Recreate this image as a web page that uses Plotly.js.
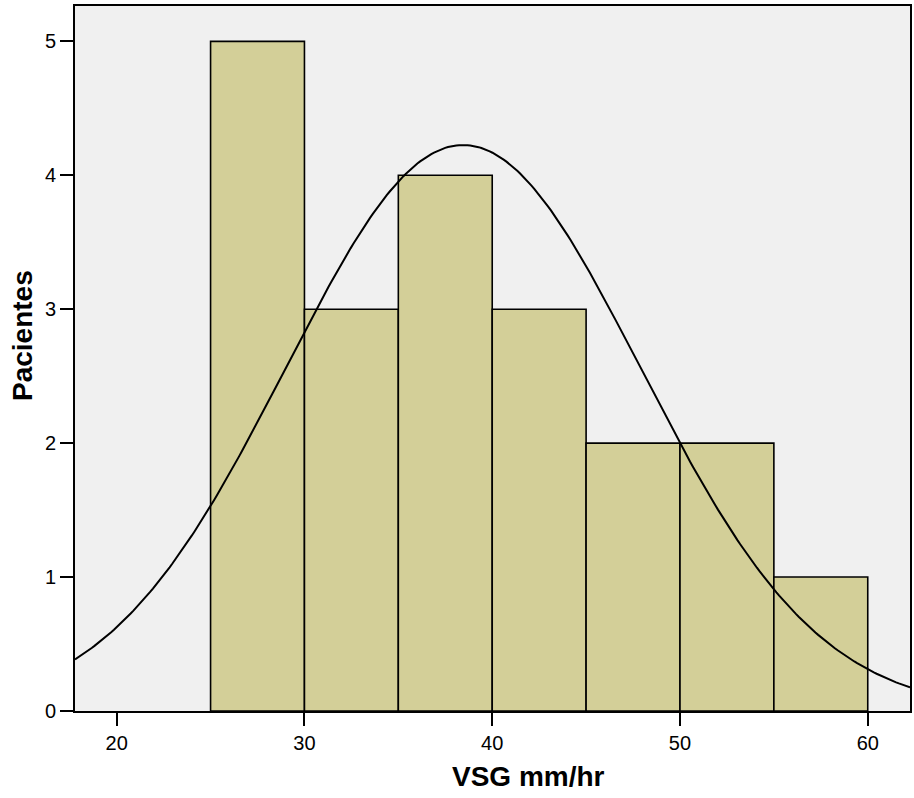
<!DOCTYPE html>
<html>
<head>
<meta charset="utf-8">
<script src="https://cdn.plot.ly/plotly-3.0.1.min.js"></script>
<style>html,body{margin:0;padding:0;background:#fff;}#chart{width:914px;height:798px;}</style>
</head>
<body>
<div id="chart"></div>
<script>
// Histogram bins (lower edge, mm/hr) and patient counts
var binStarts = [25, 30, 35, 40, 45, 50, 55];
var binWidth = 5;
var counts = [5, 3, 4, 3, 2, 2, 1];
// Fitted normal curve parameters
var curveMean = 38.45;
var curveSD = 9.44;
var xTicks = [20, 30, 40, 50, 60];
var yTicks = [0, 1, 2, 3, 4, 5];
var xTitle = 'VSG mm/hr';
var yTitle = 'Pacientes';

var nTotal = counts.reduce(function(a, b){ return a + b; }, 0);
var binCenters = binStarts.map(function(s){ return s + binWidth / 2; });

var xRange = [17.78, 62.25];
var cx = [], cy = [];
var steps = 300;
for (var i = 0; i <= steps; i++) {
  var x = xRange[0] + (xRange[1] - xRange[0]) * i / steps;
  var z = (x - curveMean) / curveSD;
  cx.push(x);
  cy.push(nTotal * binWidth * Math.exp(-0.5 * z * z) / (curveSD * Math.sqrt(2 * Math.PI)));
}

var traces = [
  {
    type: 'bar',
    x: binCenters,
    y: counts,
    width: binWidth,
    marker: {color: '#D3CF98', line: {color: '#000000', width: 1.6}},
    hoverinfo: 'x+y',
    showlegend: false
  },
  {
    type: 'scatter',
    mode: 'lines',
    x: cx,
    y: cy,
    line: {color: '#000000', width: 2},
    hoverinfo: 'skip',
    showlegend: false
  }
];

var layout = {
  width: 914,
  height: 798,
  margin: {l: 75, r: 4, t: 6, b: 87},
  paper_bgcolor: '#FFFFFF',
  plot_bgcolor: '#F0F0F0',
  bargap: 0,
  font: {family: 'Liberation Sans, Arial, sans-serif', color: '#000000', size: 20},
  xaxis: {
    range: xRange,
    tickvals: xTicks,
    ticktext: xTicks.map(String),
    ticks: 'outside',
    ticklen: 13,
    tickwidth: 2,
    tickcolor: '#000000',
    showgrid: false,
    zeroline: false,
    showline: true,
    linecolor: '#000000',
    linewidth: 2,
    mirror: true,
    tickfont: {size: 20}
  },
  yaxis: {
    range: [0, 5.264],
    tickvals: yTicks,
    ticktext: yTicks.map(String),
    ticks: 'outside',
    ticklen: 13,
    tickwidth: 2,
    tickcolor: '#000000',
    showgrid: false,
    zeroline: false,
    showline: true,
    linecolor: '#000000',
    linewidth: 2,
    mirror: true,
    tickfont: {size: 20}
  },
  annotations: [
    {
      text: '<b>' + xTitle + '</b>',
      xref: 'paper', yref: 'paper',
      x: 0.5437, y: -0.0936,
      xanchor: 'center', yanchor: 'middle',
      showarrow: false,
      font: {size: 28}
    },
    {
      text: '<b>' + yTitle + '</b>',
      xref: 'paper', yref: 'paper',
      x: -0.0635, y: 0.5333,
      xanchor: 'center', yanchor: 'middle',
      textangle: -90,
      showarrow: false,
      font: {size: 28}
    }
  ]
};

Plotly.newPlot('chart', traces, layout, {displayModeBar: false, staticPlot: true});
</script>
</body>
</html>
